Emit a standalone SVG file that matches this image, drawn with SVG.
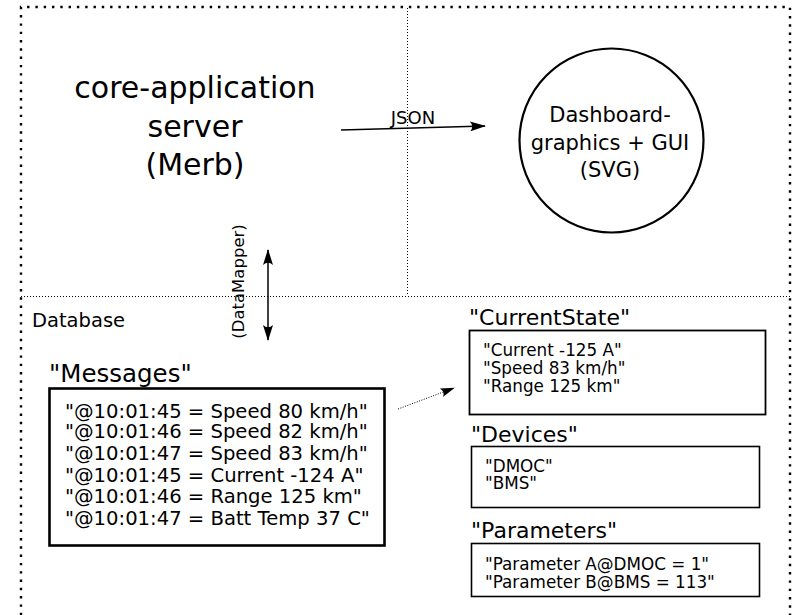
<svg xmlns="http://www.w3.org/2000/svg" width="797" height="615" viewBox="0 0 797 615">
<defs>
<style>
text{font-family:"DejaVu Sans","Liberation Sans",sans-serif;fill:#000}
.frame{fill:none;stroke:#000;stroke-width:2.4;stroke-dasharray:2.4 5.9}
.div{fill:none;stroke:#000;stroke-width:1;stroke-dasharray:1 2}
.box{fill:#fff;stroke:#000}
.lbl{font-size:22px}
.row{font-size:16.8px}
.conn{fill:none;stroke:#000;stroke-width:1.5}
</style>
<marker id="ah" viewBox="0 0 16 10" refX="15" refY="5" markerWidth="17" markerHeight="10" markerUnits="userSpaceOnUse" orient="auto-start-reverse">
<path d="M0,0 L16,5 L0,10 Q4.5,5 0,0 Z" fill="#000"/>
</marker>
<marker id="ahs" viewBox="0 0 16 10" refX="15" refY="5" markerWidth="15" markerHeight="9" markerUnits="userSpaceOnUse" orient="auto">
<path d="M0,0 L16,5 L0,10 Q4.5,5 0,0 Z" fill="#000"/>
</marker>
</defs>
<rect width="797" height="615" fill="#fff"/>
<g id="frame">
<path class="frame" d="M21,640 V7 H790 V640"/>
<path class="div" d="M21,296.5 H790"/>
<path class="div" d="M407.5,8 V296"/>
</g>
<g id="core-server">
<text x="195" y="98" font-size="30" text-anchor="middle">core-application</text>
<text x="195" y="137" font-size="30" text-anchor="middle">server</text>
<text x="195" y="175" font-size="30" text-anchor="middle">(Merb)</text>
</g>
<g id="dashboard">
<circle cx="611.5" cy="140.5" r="92" fill="none" stroke="#000" stroke-width="2.2"/>
<text x="610" y="122" font-size="21" text-anchor="middle">Dashboard-</text>
<text x="610" y="150" font-size="21" text-anchor="middle">graphics + GUI</text>
<text x="610" y="177" font-size="21" text-anchor="middle">(SVG)</text>
</g>
<g id="database-label">
<text x="32" y="327" font-size="19.5">Database</text>
</g>
<g id="messages">
<text x="49" y="382" font-size="24.5">"Messages"</text>
<rect class="box" x="49.5" y="388.5" width="335" height="157" stroke-width="2.6"/>
<g font-size="19.6">
<text x="65" y="418">"@10:01:45 = Speed 80 km/h"</text>
<text x="65" y="438">"@10:01:46 = Speed 82 km/h"</text>
<text x="65" y="460">"@10:01:47 = Speed 83 km/h"</text>
<text x="65" y="482">"@10:01:45 = Current -124 A"</text>
<text x="65" y="503">"@10:01:46 = Range 125 km"</text>
<text x="65" y="525">"@10:01:47 = Batt Temp 37 C"</text>
</g>
</g>
<g id="currentstate">
<text class="lbl" x="469" y="325">"CurrentState"</text>
<rect class="box" x="469.5" y="330.5" width="296" height="84" stroke-width="1.8"/>
<text class="row" x="483" y="356">"Current -125 A"</text>
<text class="row" x="483" y="374">"Speed 83 km/h"</text>
<text class="row" x="483" y="392">"Range 125 km"</text>
</g>
<g id="devices">
<text class="lbl" x="471" y="442">"Devices"</text>
<rect class="box" x="471.5" y="446.5" width="288" height="61" stroke-width="1.6"/>
<text class="row" x="485" y="472">"DMOC"</text>
<text class="row" x="485" y="489">"BMS"</text>
</g>
<g id="parameters">
<text class="lbl" x="471" y="538">"Parameters"</text>
<rect class="box" x="471.5" y="543.5" width="288" height="53" stroke-width="1.6"/>
<text class="row" x="485" y="570">"Parameter A@DMOC = 1"</text>
<text class="row" x="485" y="588">"Parameter B@BMS = 113"</text>
</g>
<g id="connectors">
<line class="conn" x1="341" y1="130" x2="485" y2="126" marker-end="url(#ah)"/>
<text x="413" y="124" font-size="18" text-anchor="middle">JSON</text>
<line class="conn" x1="268" y1="250" x2="268" y2="340" marker-start="url(#ah)" marker-end="url(#ah)"/>
<text transform="translate(244,281.5) rotate(-90)" font-size="16.5" text-anchor="middle">(DataMapper)</text>
<line x1="398" y1="409" x2="454" y2="388" stroke="#000" stroke-width="1" stroke-dasharray="1 1.5" marker-end="url(#ahs)"/>
</g>
</svg>
